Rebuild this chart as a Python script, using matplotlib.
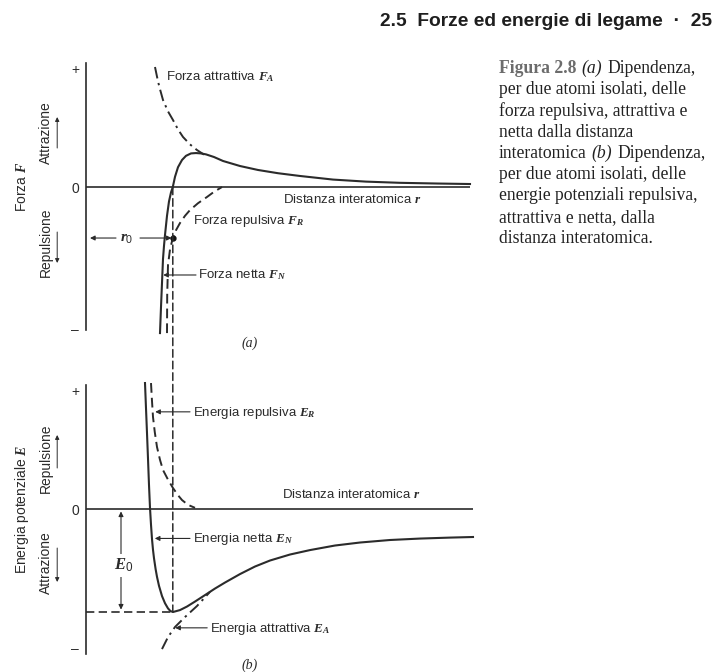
import matplotlib
matplotlib.use("Agg")
import matplotlib.pyplot as plt
from matplotlib.patches import ConnectionPatch

# sans text with bold-italic serif symbols, like the book's figures
plt.rcParams["mathtext.fontset"] = "custom"
plt.rcParams["mathtext.rm"] = "Liberation Sans"
plt.rcParams["mathtext.it"] = "Liberation Serif:italic:bold"
plt.rcParams["mathtext.bf"] = "Liberation Serif:bold"

SANS = ["Liberation Sans Narrow", "DejaVu Sans Condensed", "Liberation Sans"]
SERIF = ["Liberation Serif", "DejaVu Serif"]
INK = "#2b2b2b"
DASH = (0, (5, 2.6))
DASHDOT = (0, (6, 2.4, 1.2, 2.4))

# (a) forces vs interatomic distance (arbitrary units, attraction positive)
FA_R = [1.725, 1.8, 1.85, 1.925, 2.05, 2.175, 2.3, 2.425, 2.6, 2.775, 2.95]
FA_F = [1.0, 0.88, 0.815, 0.725, 0.63, 0.558, 0.48, 0.417, 0.355, 0.308, 0.27]

FR_R = [2.025, 2.03, 2.05, 2.1, 2.17, 2.25, 2.35, 2.475, 2.6, 2.8, 3.025, 3.2, 3.4]
FR_F = [-1.217, -0.9, -0.65, -0.52, -0.425, -0.36, -0.3, -0.24, -0.192, -0.135, -0.083, -0.04, 0.0]

FN_R = [1.85, 1.875, 1.9, 1.925, 1.95, 1.975, 2.025, 2.075, 2.125, 2.17, 2.225, 2.3,
        2.4, 2.5, 2.625, 2.75, 2.875, 3.0, 3.2, 3.425, 3.85, 4.3, 4.8, 5.35, 6.175,
        7.0, 7.85, 8.8, 9.6]
FN_F = [-1.217, -1.0, -0.8, -0.6, -0.49, -0.4, -0.24, -0.12, -0.045, 0.0, 0.085, 0.165,
        0.225, 0.26, 0.28, 0.283, 0.28, 0.272, 0.25, 0.217, 0.175, 0.142, 0.115, 0.092,
        0.062, 0.045, 0.035, 0.029, 0.025]

# (b) potential energies (repulsion positive)
ER_R = [1.625, 1.65, 1.675, 1.72, 1.775, 1.85, 1.925, 2.05, 2.175, 2.3, 2.4, 2.55, 2.725]
ER_E = [1.05, 0.9, 0.767, 0.64, 0.517, 0.41, 0.325, 0.245, 0.175, 0.115, 0.075, 0.035, 0.01]

EA_R = [1.9, 2.05, 2.225, 2.475, 2.775, 3.1]
EA_E = [-1.167, -1.067, -0.983, -0.9, -0.808, -0.69]

EN_R = [1.475, 1.5, 1.525, 1.55, 1.575, 1.6, 1.625, 1.65, 1.675, 1.7, 1.74, 1.775,
        1.825, 1.9, 1.975, 2.05, 2.11, 2.175, 2.35, 2.525, 2.725, 2.975, 3.225, 3.475,
        3.85, 4.225, 4.6, 5.1, 5.6, 6.225, 6.85, 7.6, 8.35, 9.1, 9.675]
EN_E = [1.05, 0.84, 0.633, 0.42, 0.2, 0.01, -0.13, -0.25, -0.34, -0.41, -0.5, -0.565,
        -0.64, -0.725, -0.785, -0.828, -0.85, -0.858, -0.842, -0.8125, -0.771, -0.717,
        -0.6625, -0.6125, -0.542, -0.479, -0.429, -0.379, -0.342, -0.304, -0.279,
        -0.258, -0.246, -0.238, -0.233]

R0 = 2.17          # equilibrium spacing, F_N = 0
E0 = -0.858        # bottom of the E_N well
F_AT_R0 = -0.425   # F_R at r0, where the r0 arrow sits

HEADER = "2.5  Forze ed energie di legame  ·  25"
CAPTION = [
    [("Figura 2.8", "lead"), ("(a)", "ital"), ("Dipendenza,", "body")],
    [("per due atomi isolati, delle", "body")],
    [("forza repulsiva, attrattiva e", "body")],
    [("netta dalla distanza", "body")],
    [("interatomica", "body"), ("(b)", "ital"), ("Dipendenza,", "body")],
    [("per due atomi isolati, delle", "body")],
    [("energie potenziali repulsiva,", "body")],
    [("attrattiva e netta, dalla", "body")],
    [("distanza interatomica.", "body")],
]
CAP_STYLE = {
    "lead": dict(color="#6c6c6c", fontweight="bold"),
    "ital": dict(color="#222222", style="italic"),
    "body": dict(color="#222222"),
}

W, H = 717, 672
fig = plt.figure(figsize=(W / 100, H / 100), dpi=100)
fig.patch.set_facecolor("white")

ax_a = fig.add_axes([86 / W, 1 - 350 / H, 394 / W, 295 / H])
ax_b = fig.add_axes([86 / W, 0, 394 / W, 300 / H])


def setup(ax, ylim, spine, plus, minus, x_end):
    ax.set_xlim(0, 9.85)
    ax.set_ylim(*ylim)
    ax.patch.set_alpha(0)
    for s in ("top", "right", "bottom"):
        ax.spines[s].set_visible(False)
    ax.spines["left"].set_bounds(*spine)
    ax.spines["left"].set_color(INK)
    ax.spines["left"].set_linewidth(1.2)
    ax.set_xticks([])
    ax.set_yticks([minus, 0, plus])
    ax.set_yticklabels(["–", "0", "+"], family=SANS)
    ax.tick_params(axis="y", length=0, pad=5, labelsize=10, colors=INK)
    ax.hlines(0, 0, x_end, color=INK, lw=1.2)


def label(ax, x, y, s, **kw):
    ax.text(x, y, s, family=SANS, fontsize=9.5, color=INK, va="center", **kw)


def arrow(ax, tip, tail, lw=0.8, ms=7):
    ax.annotate("", xy=tip, xytext=tail, annotation_clip=False,
                arrowprops=dict(arrowstyle="-|>", color=INK, lw=lw,
                                mutation_scale=ms, shrinkA=0, shrinkB=0))


def side_labels(ax, title, up_word, up_y, up_arrow, down_word, down_y, down_arrow):
    ax.text(-1.6, 0, title, rotation=90, family=SANS, fontsize=10, color=INK,
            ha="center", va="center")
    for word, y in ((up_word, up_y), (down_word, down_y)):
        ax.text(-1.0, y, word, rotation=90, family=SANS, fontsize=10, color=INK,
                ha="center", va="center")
    arrow(ax, (-0.72, up_arrow[1]), (-0.72, up_arrow[0]), lw=0.7, ms=6)
    arrow(ax, (-0.72, down_arrow[1]), (-0.72, down_arrow[0]), lw=0.7, ms=6)


# ---- (a) forces ----
setup(ax_a, (-1.358, 1.1), (-1.19, 1.033), 0.99, -1.175, 9.6)
ax_a.plot(FA_R, FA_F, color=INK, lw=1.4, ls=DASHDOT)
ax_a.plot(FR_R, FR_F, color=INK, lw=1.4, ls=DASH)
ax_a.plot(FN_R, FN_F, color=INK, lw=1.5)
ax_a.plot([R0], [F_AT_R0], "o", color="#111111", ms=3.5)

label(ax_a, 2.0, 0.917, r"Forza attrattiva $F_A$")
label(ax_a, 2.675, -0.283, r"Forza repulsiva $F_R$")
label(ax_a, 2.8, -0.733, r"Forza netta $F_N$")
label(ax_a, 4.925, -0.1, r"Distanza interatomica $r$")
arrow(ax_a, (1.93, -0.733), (2.75, -0.733))

ax_a.text(1.03, F_AT_R0, r"$r_0$", fontsize=11, color=INK, ha="center", va="center")
arrow(ax_a, (0.1, F_AT_R0), (0.75, F_AT_R0))
arrow(ax_a, (R0 - 0.03, F_AT_R0), (1.35, F_AT_R0))

ax_a.text(4.1, -1.3, "(a)", family=SERIF, style="italic", fontsize=10, color=INK,
          ha="center", va="center")
side_labels(ax_a, r"Forza $F$", "Attrazione", 0.45, (0.325, 0.583),
            "Repulsione", -0.458, (-0.375, -0.633))

# ---- (b) energies ----
setup(ax_b, (-1.358, 1.142), (-1.208, 1.033), 0.99, -1.158, 9.675)
ax_b.plot(ER_R, ER_E, color=INK, lw=1.4, ls=DASH)
ax_b.plot(EA_R, EA_E, color=INK, lw=1.4, ls=DASHDOT)
ax_b.plot(EN_R, EN_E, color=INK, lw=1.5)
ax_b.hlines(E0, 0, R0, color=INK, lw=1.2, linestyles=[DASH])

label(ax_b, 2.675, 0.8, r"Energia repulsiva $E_R$")
label(ax_b, 2.675, -0.25, r"Energia netta $E_N$")
label(ax_b, 3.1, -1.0, r"Energia attrattiva $E_A$")
label(ax_b, 4.9, 0.117, r"Distanza interatomica $r$")
arrow(ax_b, (1.73, 0.81), (2.6, 0.81))
arrow(ax_b, (1.72, -0.245), (2.6, -0.245))
arrow(ax_b, (2.23, -0.99), (3.03, -0.99))

ax_b.annotate("", xy=(0.875, -0.02), xytext=(0.875, E0 + 0.02), annotation_clip=False,
              arrowprops=dict(arrowstyle="<|-|>", color=INK, lw=0.8, mutation_scale=7,
                              shrinkA=0, shrinkB=0))
ax_b.text(0.93, -0.47, r"$E_0$", fontsize=12, color=INK, ha="center", va="center",
          bbox=dict(boxstyle="square,pad=0.15", fc="white", ec="none"))

ax_b.text(4.1, -1.3, "(b)", family=SERIF, style="italic", fontsize=10, color=INK,
          ha="center", va="center")
side_labels(ax_b, r"Energia potenziale $E$", "Repulsione", 0.425, (0.342, 0.617),
            "Attrazione", -0.45, (-0.325, -0.608))

# r0 guide running from the force zero down to the energy minimum
fig.add_artist(ConnectionPatch(xyA=(R0, 0), coordsA=ax_a.transData,
                               xyB=(R0, E0), coordsB=ax_b.transData,
                               color=INK, lw=1.1, linestyle=DASH))

# ---- page header and caption ----
fig.text(712 / W, 1 - 22 / H, HEADER, ha="right", va="center", fontsize=13.8,
         fontweight="bold", family=["Liberation Sans", "DejaVu Sans"], color="#1e1e1e")

for i, line in enumerate(CAPTION):
    y = 1 - (73 + 21.25 * i) / H
    last = None
    for text, kind in line:
        kw = dict(family=SERIF, fontsize=12.7, **CAP_STYLE[kind])
        if last is None:
            last = fig.text(499 / W, y, text, va="baseline", ha="left", **kw)
        else:
            last = ax_a.annotate(text, xy=(1, 0), xycoords=last,
                                 xytext=(3.6, 0), textcoords="offset points",
                                 va="bottom", ha="left", annotation_clip=False, **kw)

fig.savefig("out.png", dpi=100)
